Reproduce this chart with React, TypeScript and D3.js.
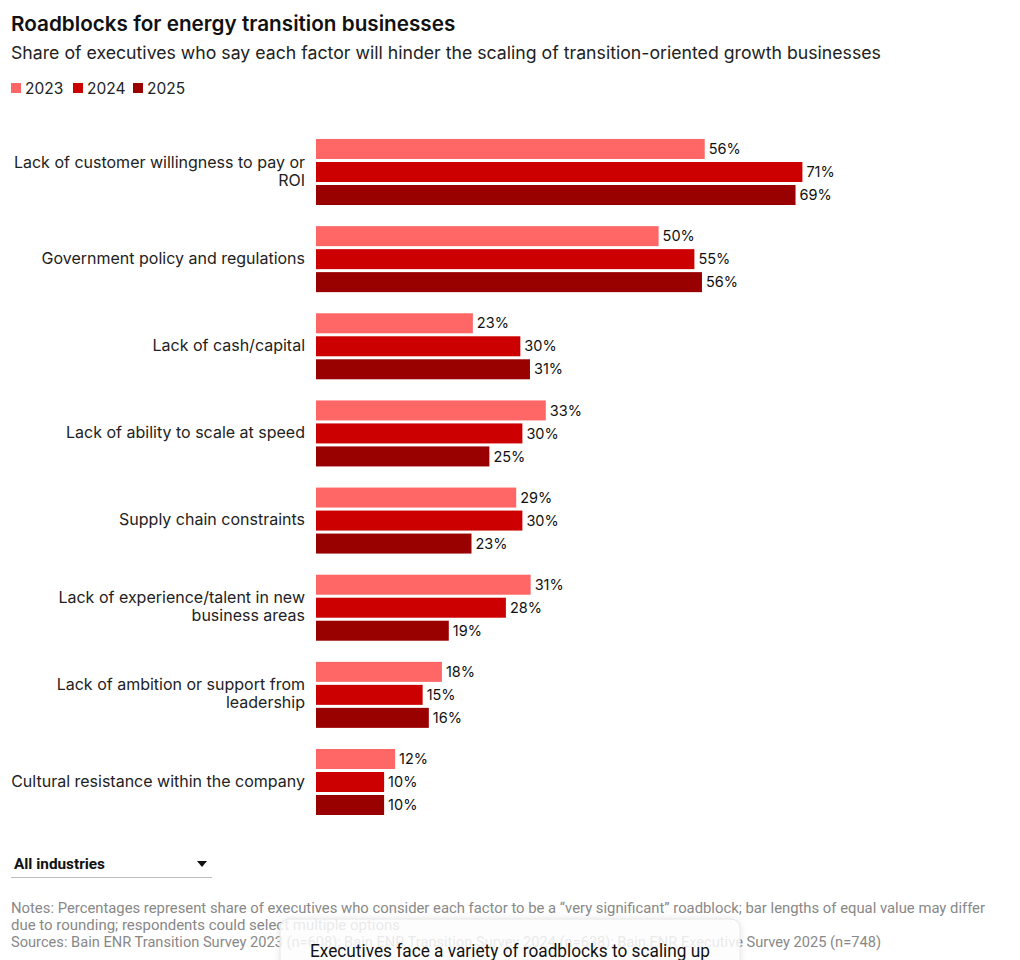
import React from "react";
import * as d3 from "d3";

const categories = [
  ["Lack of customer willingness to pay or", "ROI"],
  ["Government policy and regulations"],
  ["Lack of cash/capital"],
  ["Lack of ability to scale at speed"],
  ["Supply chain constraints"],
  ["Lack of experience/talent in new", "business areas"],
  ["Lack of ambition or support from", "leadership"],
  ["Cultural resistance within the company"],
];

const years = ["2023", "2024", "2025"];

// bar values (unrounded estimates) and printed labels
const values2023 = [56.5, 49.8, 22.8, 33.4, 29.1, 31.2, 18.3, 11.5];
const values2024 = [70.7, 55.0, 29.7, 30.0, 30.0, 27.6, 15.5, 9.9];
const values2025 = [69.7, 56.1, 31.1, 25.2, 22.6, 19.3, 16.4, 9.9];
const labels2023 = [56, 50, 23, 33, 29, 31, 18, 12];
const labels2024 = [71, 55, 30, 30, 30, 28, 15, 10];
const labels2025 = [69, 56, 31, 25, 23, 19, 16, 10];

const colors = ["#ff6666", "#cc0000", "#990000"];

const title = "Roadblocks for energy transition businesses";
const subtitle =
  "Share of executives who say each factor will hinder the scaling of transition-oriented growth businesses";
const notes = [
  "Notes: Percentages represent share of executives who consider each factor to be a \u201cvery significant\u201d roadblock; bar lengths of equal value may differ",
  "due to rounding; respondents could select multiple options",
  "Sources: Bain ENR Transition Survey 2023 (n=608); Bain ENR Transition Survey 2024 (n=638); Bain ENR Executive Survey 2025 (n=748)",
];
const dropdownLabel = "All industries";
const popupText = "Executives face a variety of roadblocks to scaling up";

const FONT = "Inter, 'Noto Sans', sans-serif";
const NARROW = "'Liberation Sans Narrow', Roboto, sans-serif";

export default function App() {
  const W = 1020;
  const H = 960;
  const keys = categories.map((c) => c.join(" "));
  const series = [values2023, values2024, values2025];
  const labelSeries = [labels2023, labels2024, labels2025];

  const x = d3.scaleLinear().domain([0, 100]).range([316, 316 + 688]);
  const y0 = d3.scaleBand().domain(keys).range([139, 815]).paddingInner(0.2426).paddingOuter(0);
  const y1 = d3.scaleBand().domain(years).range([0, y0.bandwidth()]).paddingInner(0.13).paddingOuter(0);

  const legendX = [11, 73, 133];

  return (
    <svg
      width={W}
      height={H}
      style={{ position: "absolute", left: 0, top: 0, display: "block", background: "#fff" }}
    >
      <defs>
        <filter id="shadow" x="-10%" y="-50%" width="120%" height="200%">
          <feDropShadow dx="0" dy="0" stdDeviation="3" floodColor="#000" floodOpacity="0.12" />
        </filter>
      </defs>
      <text x={11} y={31} fontFamily={FONT} fontWeight={600} fontSize={20.7} fill="#111">
        {title}
      </text>
      <text x={11} y={59} fontFamily={FONT} fontSize={17.7} fill="#222">
        {subtitle}
      </text>
      {years.map((yr, i) => (
        <g key={yr}>
          <rect x={legendX[i]} y={83} width={10} height={10} fill={colors[i]} />
          <text x={legendX[i] + 14} y={94} fontFamily={FONT} fontSize={15.5} fill="#222">
            {yr}
          </text>
        </g>
      ))}

      {keys.map((k, ci) => {
        const gy = y0(k)!;
        const lines = categories[ci];
        const cy = gy + y0.bandwidth() / 2;
        const lh = 18;
        return (
          <g key={k}>
            {lines.map((ln, li) => (
              <text
                key={li}
                x={305}
                y={cy - 1 + (li - (lines.length - 1) / 2) * lh}
                dy="0.35em"
                textAnchor="end"
                fontFamily={FONT}
                fontSize={16}
                fill="#222"
              >
                {ln}
              </text>
            ))}
            {years.map((yr, si) => {
              const v = series[si][ci];
              const by = gy + y1(yr)!;
              return (
                <g key={yr}>
                  <rect x={x(0)} y={by} width={x(v) - x(0)} height={y1.bandwidth()} fill={colors[si]} />
                  <text
                    x={x(v) + 4}
                    y={by + y1.bandwidth() / 2}
                    dy="0.35em"
                    fontFamily={FONT}
                    fontSize={14.5}
                    fill="#111"
                  >
                    {labelSeries[si][ci]}%
                  </text>
                </g>
              );
            })}
          </g>
        );
      })}

      <text x={14} y={869} fontFamily={NARROW} fontWeight={700} fontSize={14.5} fill="#111" textLength={91} lengthAdjust="spacingAndGlyphs">
        {dropdownLabel}
      </text>
      <path d="M197,861 L207,861 L202,867 Z" fill="#111" />
      <line x1={11} x2={212} y1={877.5} y2={877.5} stroke="#bbb" strokeWidth={1} />

      <text x={11} y={913} fontFamily={NARROW} fontSize={14.5} fill="#888" textLength={974} lengthAdjust="spacingAndGlyphs">
        {notes[0]}
      </text>
      <text x={11} y={930} fontFamily={NARROW} fontSize={14.5} fill="#888" textLength={389} lengthAdjust="spacingAndGlyphs">
        {notes[1]}
      </text>
      <text x={11} y={947} fontFamily={NARROW} fontSize={14.5} fill="#888" textLength={870} lengthAdjust="spacingAndGlyphs">
        {notes[2]}
      </text>

      <rect x={280} y={919} width={460} height={60} rx={9} fill="#fff" fillOpacity={0.82} stroke="#e6e6e6" filter="url(#shadow)" />
      <text x={310} y={957} fontFamily={NARROW} fontSize={17.5} fill="#111" textLength={400} lengthAdjust="spacingAndGlyphs">
        {popupText}
      </text>
    </svg>
  );
}
